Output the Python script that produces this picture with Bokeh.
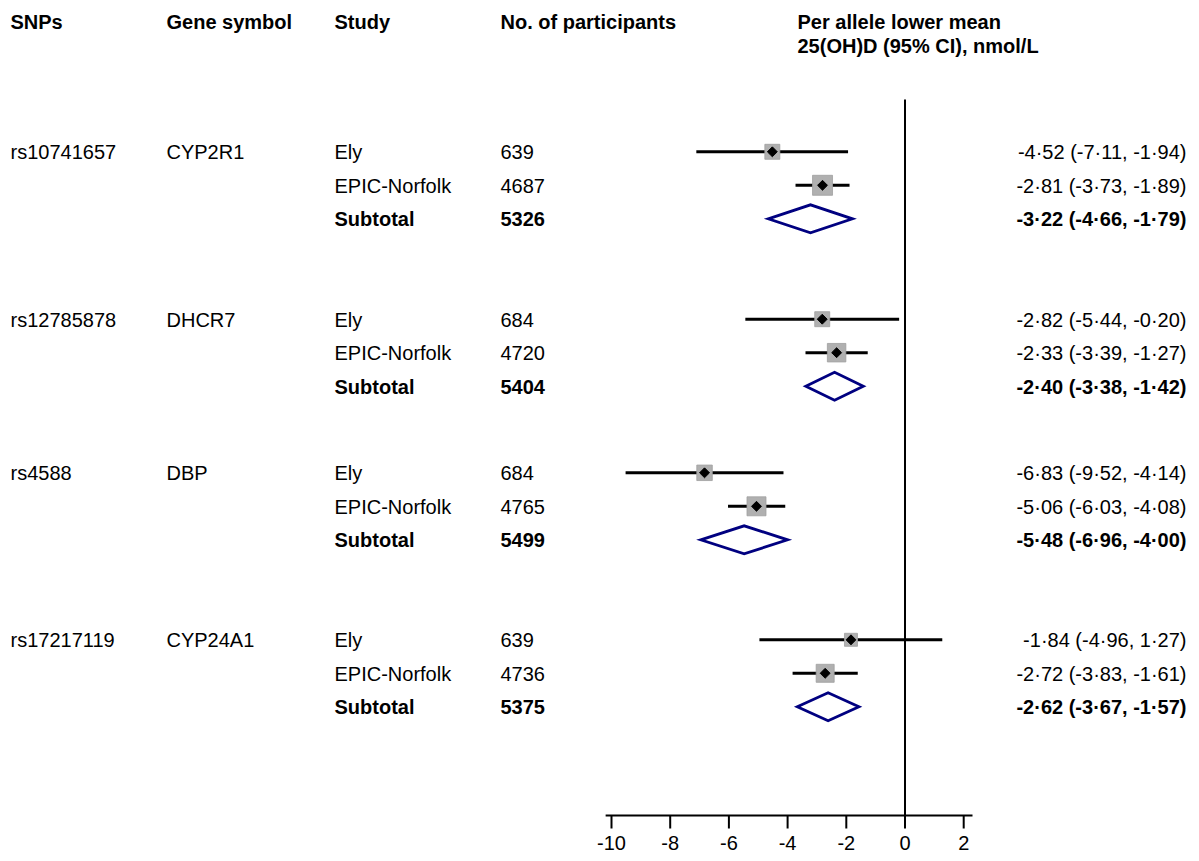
import math
from bokeh.plotting import figure
from bokeh.models import Range1d, ColumnDataSource
from bokeh.core.properties import value
from bokeh.embed import file_html
from bokeh.resources import INLINE

# ---------------- data ----------------
snps = ["rs10741657", "rs12785878", "rs4588", "rs17217119"]
genes = ["CYP2R1", "DHCR7", "DBP", "CYP24A1"]
study_labels = ["Ely", "EPIC-Norfolk", "Subtotal"]

n_ely = [639, 684, 684, 639]
n_epic = [4687, 4720, 4765, 4736]
n_sub = [5326, 5404, 5499, 5375]

est_ely = [-4.52, -2.82, -6.83, -1.84]
lo_ely = [-7.11, -5.44, -9.52, -4.96]
hi_ely = [-1.94, -0.20, -4.14, 1.27]

est_epic = [-2.81, -2.33, -5.06, -2.72]
lo_epic = [-3.73, -3.39, -6.03, -3.83]
hi_epic = [-1.89, -1.27, -4.08, -1.61]

est_sub = [-3.22, -2.40, -5.48, -2.62]
lo_sub = [-4.66, -3.38, -6.96, -3.67]
hi_sub = [-1.79, -1.42, -4.00, -1.57]

weight_ely = [15, 15, 15.5, 13]      # box sizes (study weights)
weight_epic = [20, 18.5, 19, 18]

x_ticks = [-10, -8, -6, -4, -2, 0, 2]

# ---------------- layout ----------------
W, H = 1199, 861
ZERO_PX = 904.5
PX_PER_UNIT = 29.35
GROUP_Y = [151.3, 318.7, 472.3, 639.3]
ROW_STEP = 33.5
AXIS_Y = 815
FONT = value("Liberation Sans")
FS = "20px"

COL_SNP, COL_GENE, COL_STUDY, COL_N, COL_CI_RIGHT = 10, 166, 334, 500, 1186

p = figure(width=W, height=H,
           x_range=Range1d(-ZERO_PX / PX_PER_UNIT, (W - ZERO_PX) / PX_PER_UNIT),
           y_range=Range1d(H, 0),
           output_backend="svg", toolbar_location=None, min_border=0,
           x_axis_location=None, y_axis_location=None,
           outline_line_color=None, background_fill_color="white")
p.grid.visible = False
p.extra_x_ranges = {"px": Range1d(0, W)}


def fmt(v):
    return f"{v:.2f}".replace(".", "\u00b7")


# ---------------- build rows ----------------
rows_y, rows_study, rows_n, rows_ci, rows_bold = [], [], [], [], []
study_rows = dict(y=[], est=[], lo=[], hi=[], size=[])
sub_rows = dict(xs=[], ys=[])
for g in range(len(snps)):
    y0 = GROUP_Y[g]
    triples = [(est_ely[g], lo_ely[g], hi_ely[g], n_ely[g], weight_ely[g]),
               (est_epic[g], lo_epic[g], hi_epic[g], n_epic[g], weight_epic[g]),
               (est_sub[g], lo_sub[g], hi_sub[g], n_sub[g], None)]
    for k, (e, l, h, n, w) in enumerate(triples):
        y = y0 + k * ROW_STEP
        rows_y.append(y)
        rows_study.append(study_labels[k])
        rows_n.append(str(n))
        rows_ci.append(f"{fmt(e)} ({fmt(l)}, {fmt(h)})")
        rows_bold.append(k == 2)
        if w is not None:
            study_rows["y"].append(y)
            study_rows["est"].append(e)
            study_rows["lo"].append(l)
            study_rows["hi"].append(h)
            study_rows["size"].append(w)
        else:
            sub_rows["xs"].append([l, e, h, e])
            sub_rows["ys"].append([y, y - 14, y, y + 14])

# zero line
p.segment(x0=[0], y0=[99], x1=[0], y1=[AXIS_Y], line_color="black", line_width=2)

# CI lines
src_s = ColumnDataSource(study_rows)
p.segment(x0="lo", y0="y", x1="hi", y1="y", source=src_s, line_color="black", line_width=3)
p.scatter(x="est", y="y", size="size", marker="square", source=src_s,
          fill_color="#b0b0b0", line_color="#a0a0a0", line_width=0.8)
p.scatter(x="est", y="y", size=7, marker="square", angle=math.pi / 4, source=src_s,
          fill_color="black", line_color="black", line_width=1)

# subtotal diamonds
p.patches(xs="xs", ys="ys", source=ColumnDataSource(sub_rows),
          fill_color="white", line_color="#000080", line_width=2.8, line_join="miter")

# x axis drawn in data units
ax_lo, ax_hi = x_ticks[0] - 0.2, x_ticks[-1] + 0.3
p.segment(x0=[ax_lo], y0=[AXIS_Y], x1=[ax_hi], y1=[AXIS_Y], line_color="black", line_width=2)
p.segment(x0=x_ticks, y0=[AXIS_Y] * len(x_ticks), x1=x_ticks, y1=[AXIS_Y + 13] * len(x_ticks),
          line_color="black", line_width=2)
p.text(x=x_ticks, y=[842] * len(x_ticks), text=[str(t) for t in x_ticks],
       text_align="center", text_baseline="middle", text_font=FONT,
       text_font_size=FS, text_color="black")

# ---------------- text columns ----------------
TY = 0.5  # text offset to align cap centres with markers


def col_text(x, ys, texts, bold=False, align="left"):
    p.text(x=[x] * len(ys), y=[y + TY for y in ys], text=texts, x_range_name="px",
           text_align=align, text_baseline="middle", text_font=FONT,
           text_font_size=FS, text_color="black",
           text_font_style="bold" if bold else "normal")


col_text(COL_SNP, GROUP_Y, snps)
col_text(COL_GENE, GROUP_Y, genes)

norm_idx = [i for i, b in enumerate(rows_bold) if not b]
bold_idx = [i for i, b in enumerate(rows_bold) if b]
for idxs, bold in ((norm_idx, False), (bold_idx, True)):
    ys = [rows_y[i] for i in idxs]
    col_text(COL_STUDY, ys, [rows_study[i] for i in idxs], bold)
    col_text(COL_N, ys, [rows_n[i] for i in idxs], bold)
    col_text(COL_CI_RIGHT, ys, [rows_ci[i] for i in idxs], bold, align="right")

# headers
headers = ["SNPs", "Gene symbol", "Study", "No. of participants", "Per allele lower mean"]
header_x = [COL_SNP, COL_GENE, COL_STUDY, COL_N, 797]
p.text(x=header_x, y=[21] * len(headers), text=headers, x_range_name="px",
       text_align="left", text_baseline="middle", text_font=FONT,
       text_font_size=FS, text_font_style="bold", text_color="black")
p.text(x=[797], y=[45], text=["25(OH)D (95% CI), nmol/L"], x_range_name="px",
       text_align="left", text_baseline="middle", text_font=FONT,
       text_font_size=FS, text_font_style="bold", text_color="black")

open("out.html", "w").write(file_html(p, INLINE))
